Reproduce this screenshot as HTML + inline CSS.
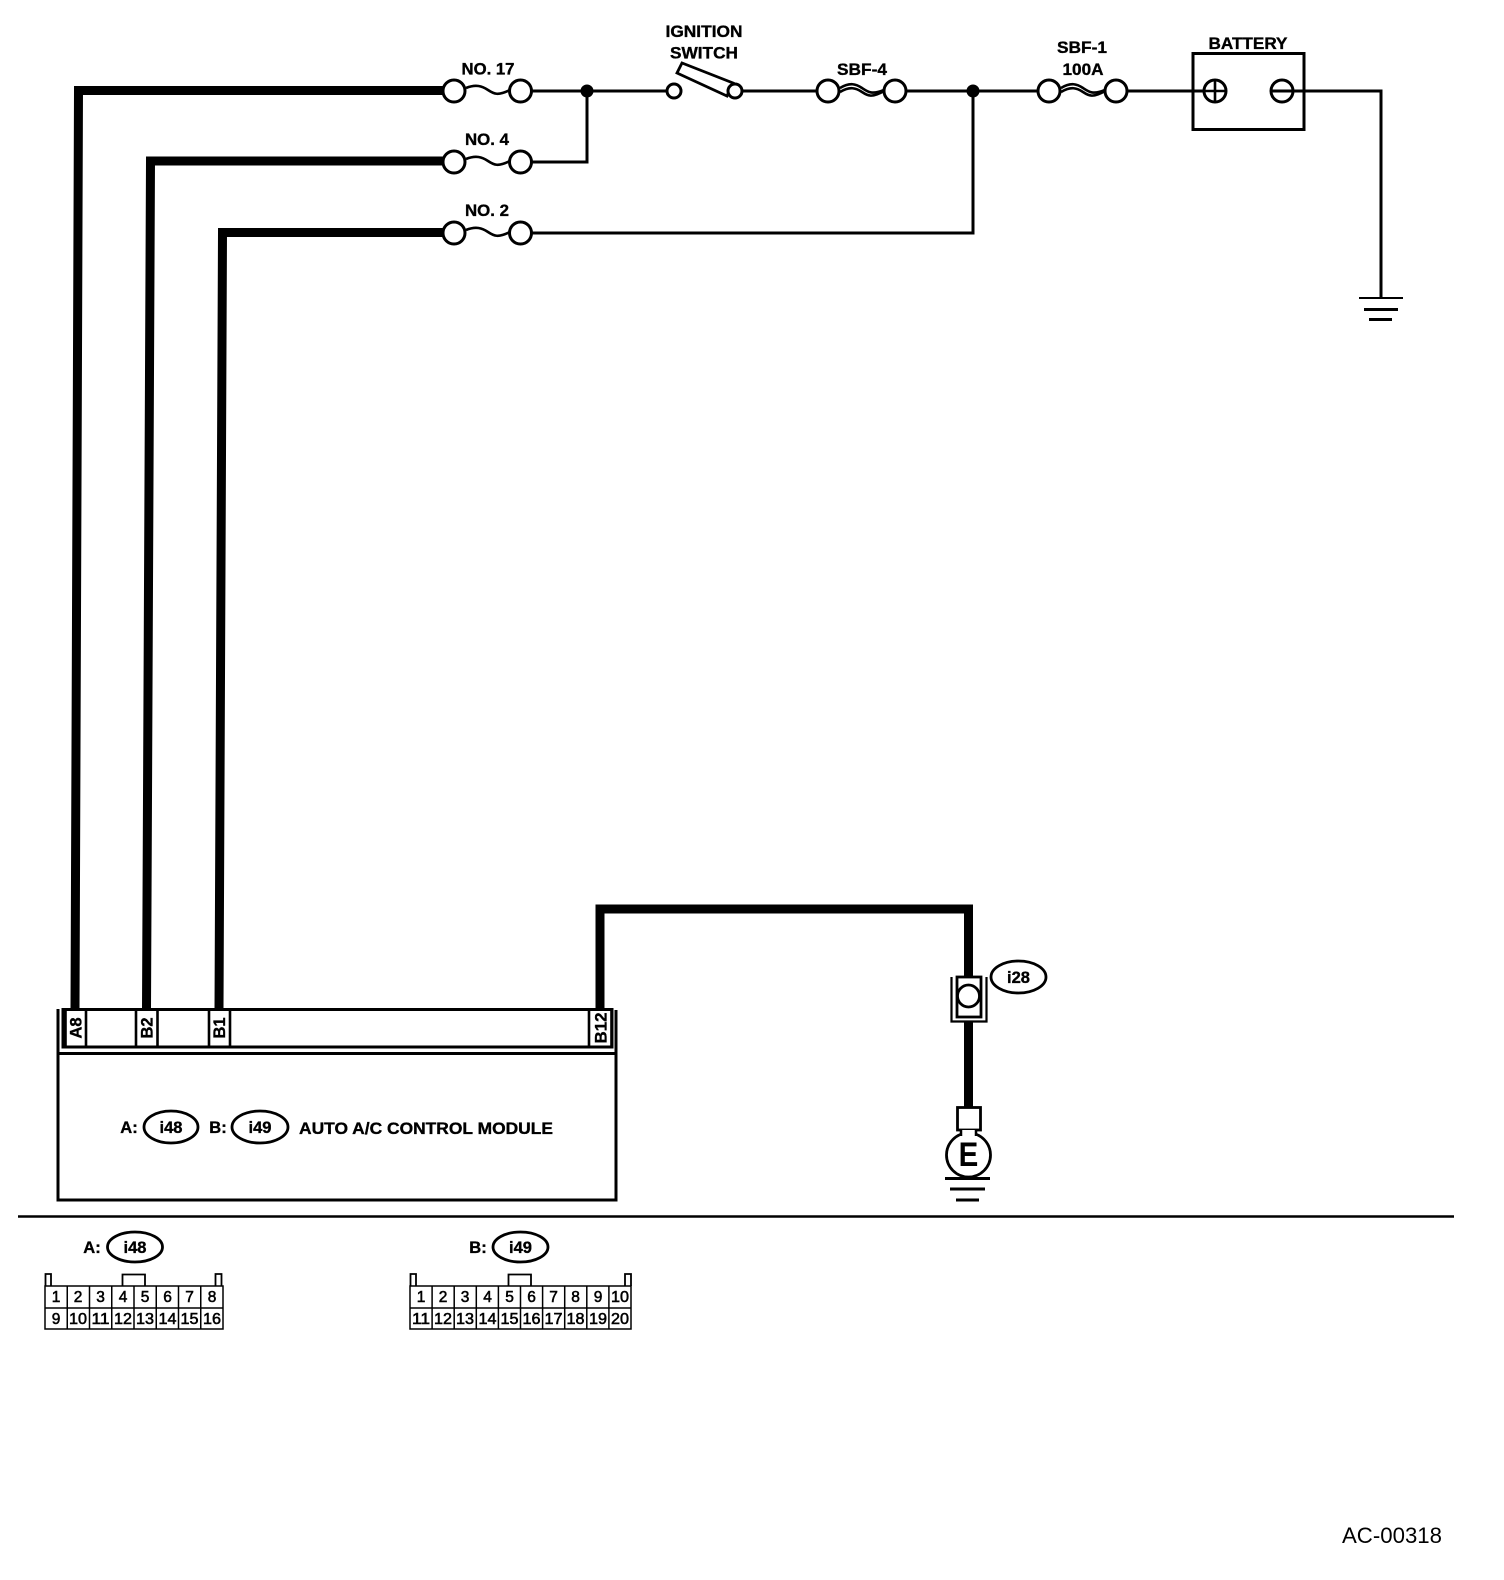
<!DOCTYPE html>
<html>
<head>
<meta charset="utf-8">
<style>
html,body{margin:0;padding:0;background:#fff;}
svg{display:block;}
text{font-family:"Liberation Sans",sans-serif;fill:#000;}
.b{font-weight:bold;font-size:16.5px;text-anchor:middle;stroke:#000;stroke-width:.35px;}
.d{font-size:15.5px;text-anchor:middle;stroke:#000;stroke-width:.55px;}
</style>
</head>
<body>
<svg width="1504" height="1580" viewBox="0 0 1504 1580" xmlns="http://www.w3.org/2000/svg">
<rect width="1504" height="1580" fill="#fff"/>
<g fill="none" stroke="#000" stroke-linejoin="miter">
<!-- thick wires -->
<g stroke-width="9">
<path d="M443 90.500H78.500L75 1009"/>
<path d="M443 161H150.500L146.500 1009"/>
<path d="M443 232.500H222.500L219 1009"/>
<path d="M600 1009V909H968.500V977"/>
<path d="M968.500 1022V1107"/>
</g>
<!-- thin wires -->
<g stroke-width="3">
<path d="M532 91H667"/>
<path d="M741 91H817"/>
<path d="M906 91H1038"/>
<path d="M1127 91H1204"/>
<path d="M1270 91H1381V297"/>
<path d="M531 162H587V91"/>
<path d="M531 233H973V91"/>
</g>
<!-- fuses -->
<g stroke-width="3" fill="#fff">
<circle cx="454" cy="91" r="11"/><circle cx="520.500" cy="91" r="11"/>
<circle cx="454" cy="162" r="11"/><circle cx="520.500" cy="162" r="11"/>
<circle cx="454" cy="233" r="11"/><circle cx="520.500" cy="233" r="11"/>
<circle cx="828" cy="91" r="11"/><circle cx="895" cy="91" r="11"/>
<circle cx="1049" cy="91" r="11"/><circle cx="1116" cy="91" r="11"/>
</g>
<g stroke-width="2.600">
<path d="M466 88C476 84 482 86 488 90S498 96 510 90"/>
<path d="M466 159C476 155 482 157 488 161S498 167 510 161"/>
<path d="M466 230C476 226 482 228 488 232S498 238 510 232"/>
<path d="M840 88C850 82 856 84 862 88S872 95 884 90"/>
<path d="M840 92C850 86 856 88 862 92S872 98 884 91"/>
<path d="M1061 88C1071 82 1077 84 1083 88S1093 95 1105 90"/>
<path d="M1061 92C1071 86 1077 88 1083 92S1093 98 1105 91"/>
</g>
<!-- switch -->
<path d="M682 63L677 73L727 96L733 83Z" stroke-width="2.800" fill="#fff"/>
<circle cx="674" cy="91" r="7" stroke-width="3" fill="#fff"/>
<circle cx="735" cy="91" r="7" stroke-width="3" fill="#fff"/>
<!-- battery -->
<rect x="1193" y="53.500" width="111" height="76" stroke-width="3"/>
<circle cx="1215" cy="91" r="11" stroke-width="3" fill="#fff"/>
<path d="M1215 80V102M1204 91H1226" stroke-width="2.600"/>
<circle cx="1282" cy="91" r="11" stroke-width="3"/>
<!-- ground 1 -->
<path d="M1359 298H1403" stroke-width="2"/>
<path d="M1364 309.500H1398M1369 319.500H1392" stroke-width="3"/>
<!-- module -->
<path d="M58 1009V1200H616V1010" stroke-width="3"/>
<path d="M63 1009.500H612V1047H63Z" stroke-width="3"/>
<path d="M58 1053.500H616" stroke-width="3"/>
<path d="M65.500 1009V1046M86 1009V1046M136 1009V1046M157.500 1009V1046M209 1009V1046M230 1009V1046M589 1009V1046M611.500 1009V1046" stroke-width="2.600"/>
<ellipse cx="171" cy="1127" rx="27" ry="16" stroke-width="2.800"/>
<ellipse cx="260" cy="1127" rx="28" ry="16" stroke-width="2.800"/>
<!-- i28 connector -->
<path d="M951.500 977V1021.500H986.500V977" stroke-width="2.200"/>
<rect x="957" y="977" width="24" height="40" stroke-width="2.800" fill="#fff"/>
<circle cx="968.500" cy="996" r="11" stroke-width="2.800" fill="#fff"/>
<ellipse cx="1018.500" cy="977" rx="27.500" ry="16" stroke-width="2.800"/>
<!-- E ground -->
<circle cx="968.500" cy="1155" r="22" stroke-width="2.800" fill="#fff"/>
<rect x="957.500" y="1107.500" width="23" height="22.500" stroke-width="2.800" fill="#fff"/>
<path d="M961 1133H976" stroke="#fff" stroke-width="6"/>
<path d="M961 1130V1136M976 1130V1136" stroke-width="2.500"/>
<path d="M945 1178.500H990M950 1189H985M956 1200H979" stroke-width="3"/>
<!-- separator -->
<path d="M18 1216.500H1454" stroke-width="2.400"/>
<!-- connector A -->
<ellipse cx="135" cy="1247" rx="27.500" ry="15" stroke-width="2.800"/>
<path d="M45.500 1286V1274H51V1286M215.500 1286V1274H221.500V1286M122.500 1286V1274.500H145V1286" stroke-width="1.800"/>
<g stroke-width="1.500">
<rect x="45" y="1286" width="178" height="43"/>
<path d="M45 1308H223M67.250 1286V1329M89.500 1286V1329M111.750 1286V1329M134 1286V1329M156.250 1286V1329M178.500 1286V1329M200.750 1286V1329"/>
</g>
<!-- connector B -->
<ellipse cx="520.500" cy="1247" rx="27.500" ry="15" stroke-width="2.800"/>
<path d="M410.500 1286V1274H416V1286M625 1286V1274H631V1286M508.500 1286V1274.500H531V1286" stroke-width="1.800"/>
<g stroke-width="1.500">
<rect x="410" y="1286" width="221" height="43"/>
<path d="M410 1308H631M432.100 1286V1329M454.200 1286V1329M476.300 1286V1329M498.400 1286V1329M520.500 1286V1329M542.600 1286V1329M564.700 1286V1329M586.800 1286V1329M608.900 1286V1329"/>
</g>
</g>
<!-- junction dots -->
<circle cx="587" cy="91" r="6.500" fill="#000"/>
<circle cx="973" cy="91" r="6.500" fill="#000"/>
<!-- labels -->
<text class="b" x="704" y="37" textLength="77" lengthAdjust="spacingAndGlyphs">IGNITION</text>
<text class="b" x="704" y="58.500" textLength="68" lengthAdjust="spacingAndGlyphs">SWITCH</text>
<text class="b" x="488" y="74.500" textLength="53" lengthAdjust="spacingAndGlyphs">NO. 17</text>
<text class="b" x="487" y="145" textLength="44" lengthAdjust="spacingAndGlyphs">NO. 4</text>
<text class="b" x="487" y="216" textLength="44" lengthAdjust="spacingAndGlyphs">NO. 2</text>
<text class="b" x="862" y="75" textLength="50" lengthAdjust="spacingAndGlyphs">SBF-4</text>
<text class="b" x="1082" y="53" textLength="50" lengthAdjust="spacingAndGlyphs">SBF-1</text>
<text class="b" x="1083" y="75" textLength="41" lengthAdjust="spacingAndGlyphs">100A</text>
<text class="b" x="1248" y="49" textLength="79" lengthAdjust="spacingAndGlyphs">BATTERY</text>
<text class="b" x="129" y="1133">A:</text>
<text class="b" x="171" y="1133">i48</text>
<text class="b" x="218" y="1133">B:</text>
<text class="b" x="260" y="1133">i49</text>
<text class="b" x="426" y="1134" textLength="254" lengthAdjust="spacingAndGlyphs">AUTO A/C CONTROL MODULE</text>
<text class="b" x="1018.500" y="983">i28</text>
<text class="b" x="92" y="1253">A:</text>
<text class="b" x="135" y="1253">i48</text>
<text class="b" x="478" y="1253">B:</text>
<text class="b" x="520.500" y="1253">i49</text>
<text class="b" transform="translate(81.500 1028) rotate(-90)">A8</text>
<text class="b" transform="translate(152.500 1028) rotate(-90)">B2</text>
<text class="b" transform="translate(225 1028) rotate(-90)">B1</text>
<text class="b" transform="translate(606.500 1028) rotate(-90)" textLength="31" lengthAdjust="spacingAndGlyphs">B12</text>
<text x="0" y="0" text-anchor="middle" transform="translate(968.500 1166) scale(.95 1.1)" style="font-weight:bold;font-size:31px;">E</text>
<!-- connector A digits -->
<g>
<text class="d" x="56" y="1302">1</text><text class="d" x="78" y="1302">2</text><text class="d" x="100.500" y="1302">3</text><text class="d" x="123" y="1302">4</text><text class="d" x="145" y="1302">5</text><text class="d" x="167.500" y="1302">6</text><text class="d" x="189.500" y="1302">7</text><text class="d" x="212" y="1302">8</text>
<text class="d" x="56" y="1324">9</text><text class="d" x="78" y="1324" textLength="18" lengthAdjust="spacingAndGlyphs">10</text><text class="d" x="100.500" y="1324" textLength="18" lengthAdjust="spacingAndGlyphs">11</text><text class="d" x="123" y="1324" textLength="18" lengthAdjust="spacingAndGlyphs">12</text><text class="d" x="145" y="1324" textLength="18" lengthAdjust="spacingAndGlyphs">13</text><text class="d" x="167.500" y="1324" textLength="18" lengthAdjust="spacingAndGlyphs">14</text><text class="d" x="189.500" y="1324" textLength="18" lengthAdjust="spacingAndGlyphs">15</text><text class="d" x="212" y="1324" textLength="18" lengthAdjust="spacingAndGlyphs">16</text>
<!-- connector B digits -->
<text class="d" x="421" y="1302">1</text><text class="d" x="443" y="1302">2</text><text class="d" x="465" y="1302">3</text><text class="d" x="487.500" y="1302">4</text><text class="d" x="509.500" y="1302">5</text><text class="d" x="531.500" y="1302">6</text><text class="d" x="553.500" y="1302">7</text><text class="d" x="575.500" y="1302">8</text><text class="d" x="598" y="1302">9</text><text class="d" x="620" y="1302" textLength="18" lengthAdjust="spacingAndGlyphs">10</text>
<text class="d" x="421" y="1324" textLength="18" lengthAdjust="spacingAndGlyphs">11</text><text class="d" x="443" y="1324" textLength="18" lengthAdjust="spacingAndGlyphs">12</text><text class="d" x="465" y="1324" textLength="18" lengthAdjust="spacingAndGlyphs">13</text><text class="d" x="487.500" y="1324" textLength="18" lengthAdjust="spacingAndGlyphs">14</text><text class="d" x="509.500" y="1324" textLength="18" lengthAdjust="spacingAndGlyphs">15</text><text class="d" x="531.500" y="1324" textLength="18" lengthAdjust="spacingAndGlyphs">16</text><text class="d" x="553.500" y="1324" textLength="18" lengthAdjust="spacingAndGlyphs">17</text><text class="d" x="575.500" y="1324" textLength="18" lengthAdjust="spacingAndGlyphs">18</text><text class="d" x="598" y="1324" textLength="18" lengthAdjust="spacingAndGlyphs">19</text><text class="d" x="620" y="1324" textLength="18" lengthAdjust="spacingAndGlyphs">20</text>
</g>
<text x="1342" y="1543" textLength="100" lengthAdjust="spacingAndGlyphs" style="font-size:22px;">AC-00318</text>
</svg>
</body>
</html>
